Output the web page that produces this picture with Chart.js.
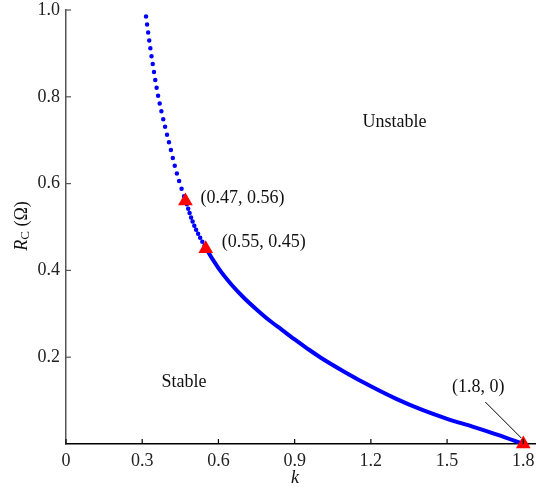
<!DOCTYPE html>
<html lang="en">
<head>
<meta charset="UTF-8">
<title>Stability boundary Rc vs k</title>
<script src="https://cdn.jsdelivr.net/npm/chart.js"></script>
<style>
  html, body { margin: 0; padding: 0; background: #fff; }
  #wrap { width: 536px; height: 494px; position: relative; }
</style>
</head>
<body>
<div id="wrap"><canvas id="chart"></canvas></div>
<script>
// boundary curve
const kValues  = [0.315, 0.33, 0.345, 0.36, 0.375, 0.39, 0.41, 0.43, 0.45, 0.47, 0.50, 0.55, 0.60, 0.65, 0.70, 0.75, 0.80, 0.85, 0.90, 0.95, 1.00, 1.10, 1.20, 1.30, 1.40, 1.50, 1.60, 1.70, 1.80];
const rcValues = [0.985, 0.92, 0.862, 0.81, 0.768, 0.731, 0.684, 0.637, 0.597, 0.562, 0.510, 0.452, 0.405, 0.368, 0.337, 0.310, 0.285, 0.263, 0.241, 0.220, 0.200, 0.165, 0.133, 0.104, 0.079, 0.058, 0.040, 0.021, 0.0];

// marked points
const markK = [0.47, 0.55, 1.8];
const markRc = [0.56, 0.45, 0];
const markLabels = ['(0.47, 0.56)', '(0.55, 0.45)', '(1.8, 0)'];

// region names
const regionNames = ['Stable', 'Unstable'];
const regionK = [0.464, 1.293];
const regionRc = [0.143, 0.741];

// axes
const xTicks = [0, 0.3, 0.6, 0.9, 1.2, 1.5, 1.8];
const xTickLabels = ['0', '0.3', '0.6', '0.9', '1.2', '1.5', '1.8'];
const yTicks = [0.2, 0.4, 0.6, 0.8, 1.0];
const yTickLabels = ['0.2', '0.4', '0.6', '0.8', '1.0'];

const SERIF = '"Liberation Serif", "Times New Roman", serif';

// inward ticks, titles and annotations
const decor = {
  id: 'decor',
  afterDraw(chart) {
    const { ctx, chartArea: a, scales: { x, y } } = chart;
    ctx.save();
    ctx.lineWidth = 1.2;
    ctx.strokeStyle = '#000';
    xTicks.forEach(v => {
      const px = x.getPixelForValue(v);
      ctx.beginPath(); ctx.moveTo(px, a.bottom); ctx.lineTo(px, a.bottom - 5); ctx.stroke();
    });
    ctx.strokeStyle = '#555';
    yTicks.forEach(v => {
      const py = y.getPixelForValue(v);
      ctx.beginPath(); ctx.moveTo(a.left, py); ctx.lineTo(a.left + 5, py); ctx.stroke();
    });

    ctx.fillStyle = '#111';
    ctx.textBaseline = 'middle';
    ctx.font = '18px ' + SERIF;

    // point labels
    const px0 = x.getPixelForValue(markK[0]), py0 = y.getPixelForValue(markRc[0]);
    const px1 = x.getPixelForValue(markK[1]), py1 = y.getPixelForValue(markRc[1]);
    const px2 = x.getPixelForValue(markK[2]), py2 = y.getPixelForValue(markRc[2]);
    ctx.textAlign = 'left';
    ctx.fillText(markLabels[0], px0 + 15, py0 - 3);
    ctx.fillText(markLabels[1], px1 + 16, py1 - 6);
    ctx.textAlign = 'center';
    ctx.fillText(markLabels[2], px2 - 45, py2 - 57);
    ctx.strokeStyle = '#000';
    ctx.lineWidth = 1;
    ctx.beginPath(); ctx.moveTo(px2 - 38, py2 - 42); ctx.lineTo(px2 - 2, py2 - 6); ctx.stroke();

    // region names
    regionNames.forEach((t, i) => {
      ctx.fillText(t, x.getPixelForValue(regionK[i]), y.getPixelForValue(regionRc[i]));
    });

    // axis titles
    ctx.font = 'italic 18px ' + SERIF;
    ctx.fillText('k', a.left + 229, 478);

    ctx.translate(22, 226);
    ctx.rotate(-Math.PI / 2);
    ctx.textAlign = 'left';
    ctx.font = 'italic 18px ' + SERIF;
    const wR = ctx.measureText('R').width;
    ctx.font = '13px ' + SERIF;
    const wC = ctx.measureText('C').width;
    ctx.font = '18px ' + SERIF;
    const wO = ctx.measureText(' (Ω)').width;
    let sx = -(wR + wC + wO) / 2;
    ctx.font = 'italic 18px ' + SERIF;
    ctx.fillText('R', sx, 0); sx += wR;
    ctx.font = '13px ' + SERIF;
    ctx.fillText('C', sx, 4); sx += wC;
    ctx.font = '18px ' + SERIF;
    ctx.fillText(' (Ω)', sx, 0);
    ctx.restore();
  }
};

new Chart(document.getElementById('chart'), {
  type: 'scatter',
  data: {
    datasets: [
      {
        label: 'marks',
        data: markK.map((k, i) => ({ x: k, y: markRc[i] })),
        pointStyle: 'triangle',
        pointRadius: 8.5,
        pointBackgroundColor: '#ff0000',
        pointBorderColor: '#ff0000',
        pointBorderWidth: 0,
        clip: false
      },
      {
        label: 'boundary',
        data: kValues.map((k, i) => ({ x: k, y: rcValues[i] })),
        showLine: true,
        pointRadius: 0,
        borderColor: '#0000ff',
        borderWidth: 4,
        borderCapStyle: 'round',
        cubicInterpolationMode: 'monotone',
        segment: {
          borderDash: c => c.p0.parsed.x < 0.47 ? [0, 8] : (c.p0.parsed.x < 0.55 ? [0, 4.5] : undefined),
          borderWidth: c => c.p0.parsed.x < 0.55 ? 4.5 : 4
        },
        clip: false
      }
    ]
  },
  options: {
    responsive: true,
    maintainAspectRatio: false,
    animation: false,
    layout: { autoPadding: false, padding: { top: 10, right: 0, left: 0, bottom: 0 } },
    plugins: { legend: { display: false }, tooltip: { enabled: false } },
    scales: {
      x: {
        type: 'linear', min: 0, max: 1.85,
        grid: { display: false, drawTicks: false },
        border: { display: true, color: '#000', width: 1.5 },
        afterBuildTicks: s => { s.ticks = xTicks.map(v => ({ value: v })); },
        afterFit: s => { s.height = 50; s.paddingLeft = 0; s.paddingRight = 0; },
        ticks: {
          padding: 0, color: '#222', font: { family: SERIF, size: 18, lineHeight: 1.87 },
          maxRotation: 0, autoSkip: false,
          callback: (v, i) => xTickLabels[i]
        }
      },
      y: {
        type: 'linear', min: 0, max: 1.0,
        grid: { display: false, drawTicks: false },
        border: { display: true, color: '#555', width: 1.5 },
        afterBuildTicks: s => { s.ticks = yTicks.map(v => ({ value: v })); },
        afterFit: s => { s.width = 66; s.paddingTop = 0; s.paddingBottom = 0; },
        ticks: {
          padding: 6, color: '#222', font: { family: SERIF, size: 18 },
          autoSkip: false,
          callback: (v, i) => yTickLabels[i]
        }
      }
    }
  },
  plugins: [decor]
});
</script>
</body>
</html>
